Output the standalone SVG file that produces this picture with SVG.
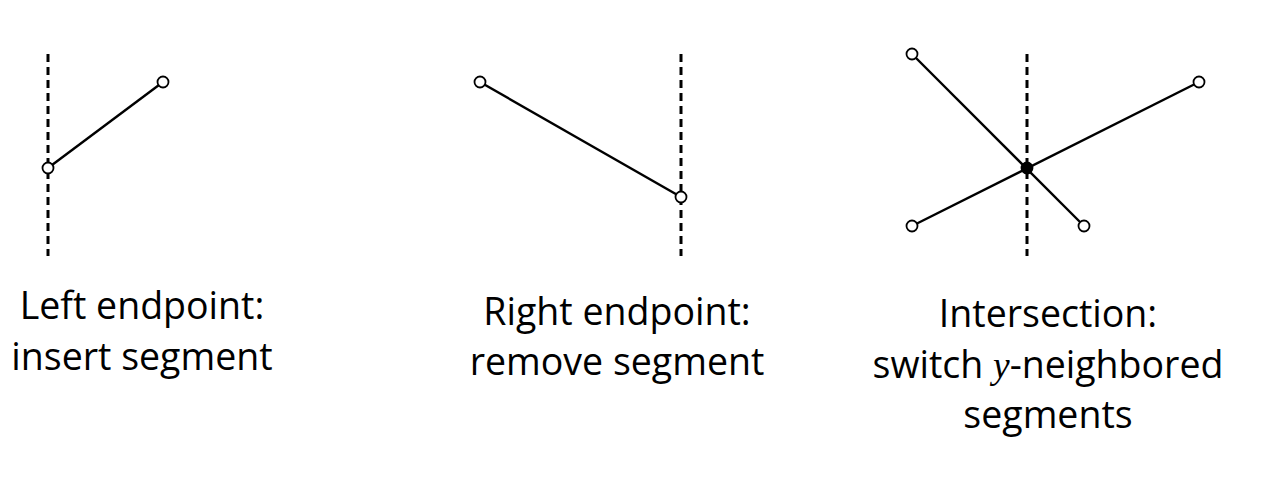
<svg xmlns="http://www.w3.org/2000/svg" width="1265" height="478" viewBox="0 0 1265 478">
<style>
.sweep{stroke:#000;stroke-width:3;stroke-dasharray:8,5;fill:none}
.seg{stroke:#000;stroke-width:2.4;fill:none}
.ep{fill:#fff;stroke:#000;stroke-width:1.8}
.ix{fill:#000;stroke:#000;stroke-width:1.8}
.lbl{font-family:"Open Sans","DejaVu Sans",sans-serif;font-size:37.5px;fill:#000;text-anchor:middle}
.math{font-family:"Liberation Serif",serif;font-style:italic}
</style>
<rect width="1265" height="478" fill="#fff"/>
<g id="connectors">
<line class="sweep" x1="48" y1="54" x2="48" y2="256"/>
<line class="seg" x1="48" y1="168" x2="163" y2="82"/>
<line class="sweep" x1="681" y1="54" x2="681" y2="256"/>
<line class="seg" x1="480" y1="82" x2="681" y2="197"/>
<line class="sweep" x1="1027" y1="54" x2="1027" y2="256"/>
<line class="seg" x1="912" y1="54" x2="1084" y2="226"/>
<line class="seg" x1="912" y1="226" x2="1199" y2="82"/>
</g>
<g id="left-endpoint">
<circle class="ep" cx="48" cy="168" r="5.5"/>
<circle class="ep" cx="163" cy="82" r="5.5"/>
<text class="lbl" x="142" y="319">Left endpoint:</text>
<text class="lbl" x="142" y="370">insert segment</text>
</g>
<g id="right-endpoint">
<circle class="ep" cx="480" cy="82" r="5.5"/>
<circle class="ep" cx="681" cy="197" r="5.5"/>
<text class="lbl" x="617" y="325">Right endpoint:</text>
<text class="lbl" x="617" y="375">remove segment</text>
</g>
<g id="intersection">
<circle class="ep" cx="912" cy="54" r="5.5"/>
<circle class="ep" cx="1084" cy="226" r="5.5"/>
<circle class="ep" cx="912" cy="226" r="5.5"/>
<circle class="ep" cx="1199" cy="82" r="5.5"/>
<circle class="ix" cx="1027" cy="168" r="5.5"/>
<text class="lbl" x="1048" y="327">Intersection:</text>
<text class="lbl" x="1048" y="378">switch <tspan class="math">y</tspan>-neighbored</text>
<text class="lbl" x="1048" y="428">segments</text>
</g>
</svg>
